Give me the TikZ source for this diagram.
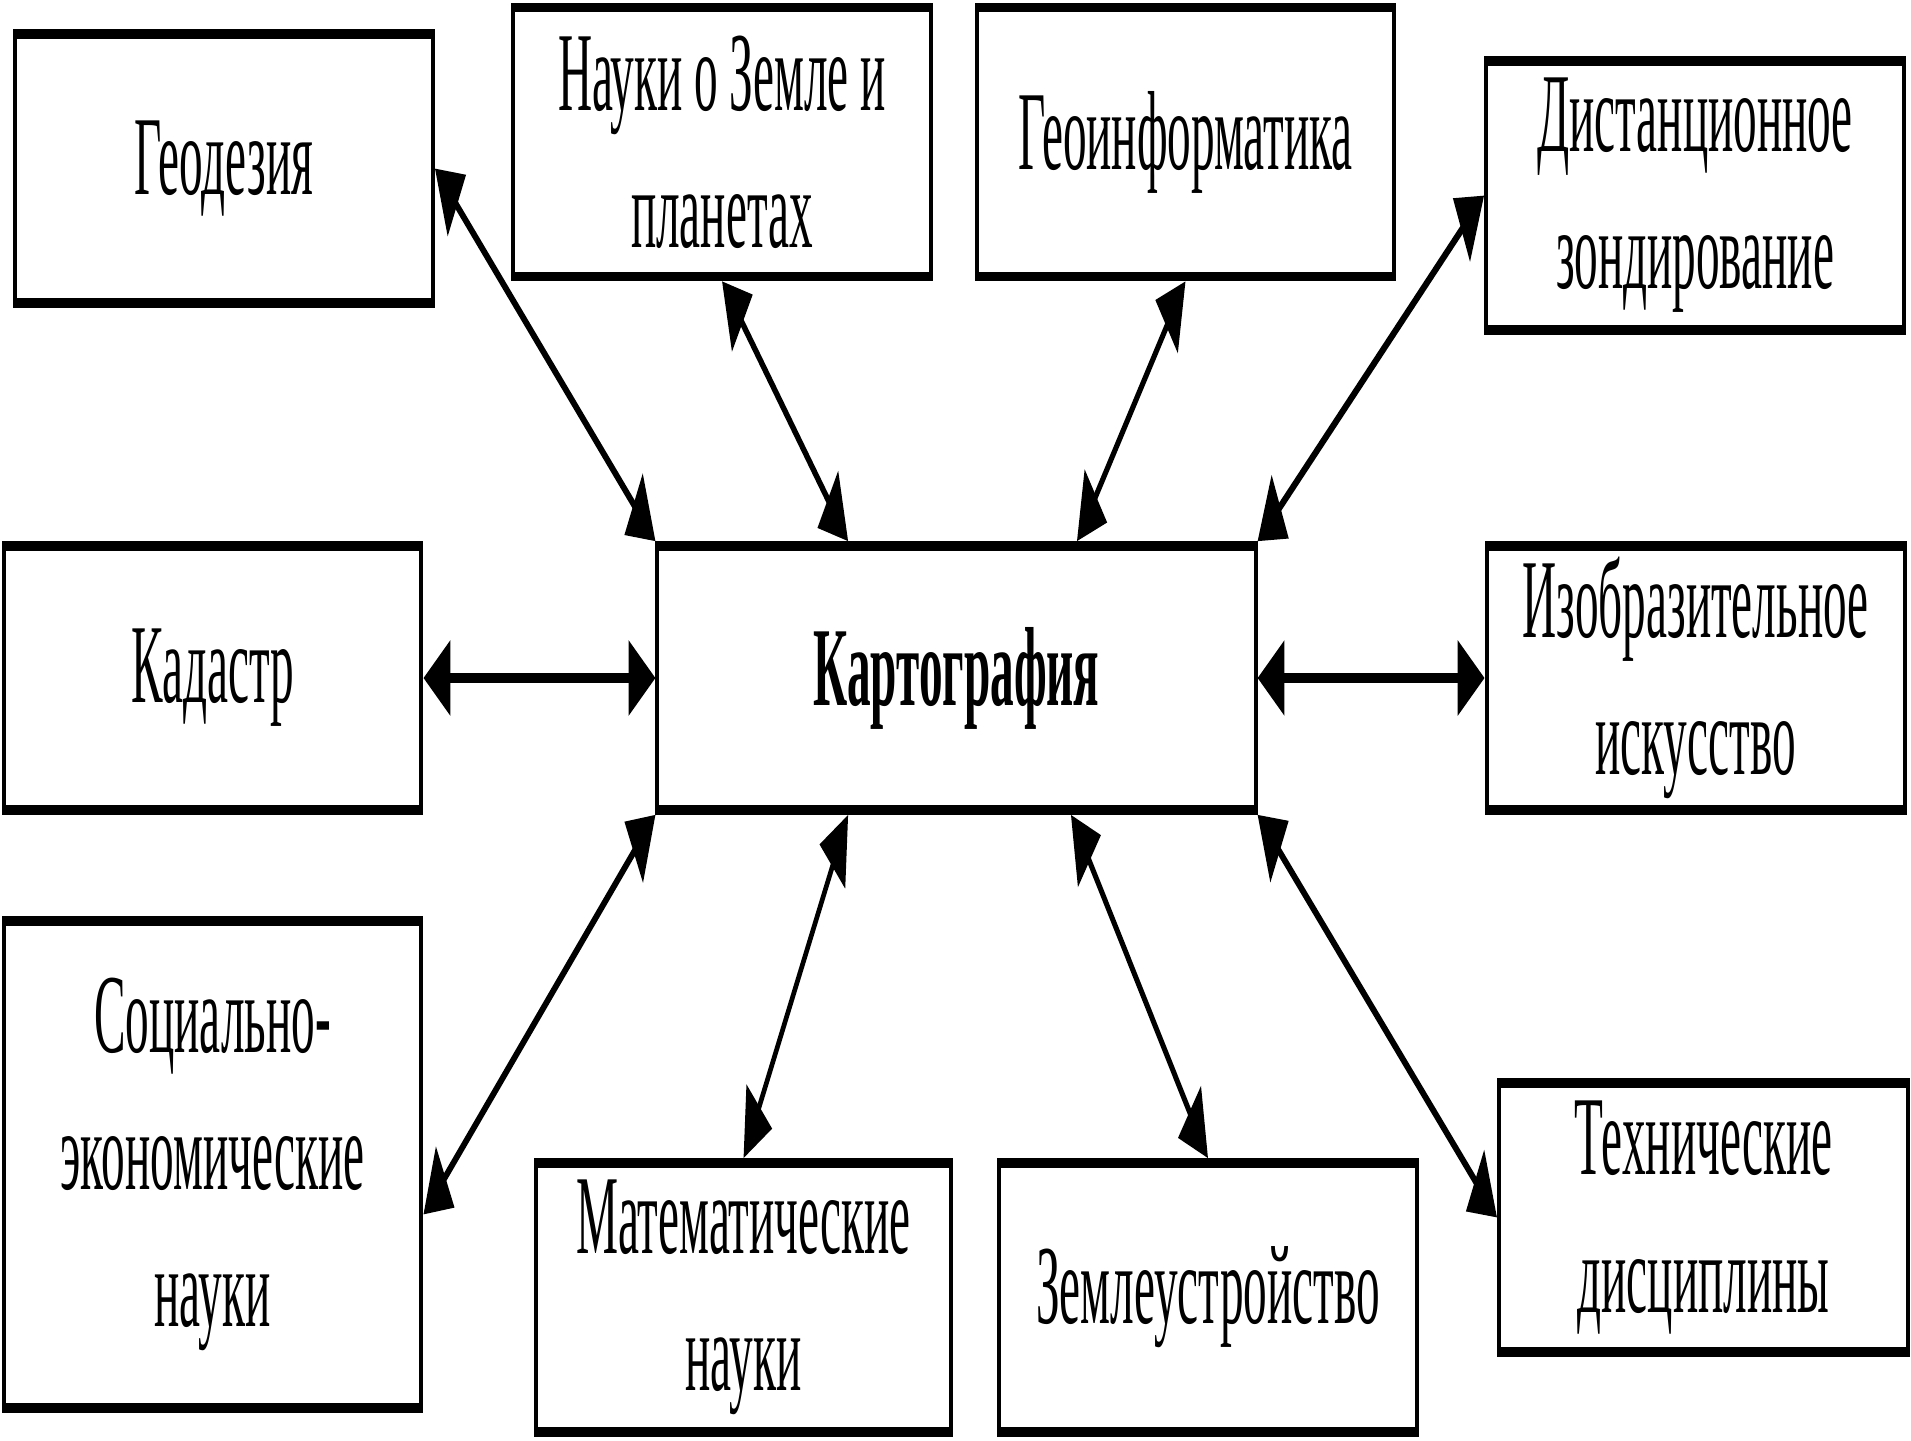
\documentclass[tikz,border=0pt]{standalone}
\usepackage{fontspec}
\setmainfont{Liberation Serif}
\usepackage{tikz}
\usetikzlibrary{arrows.meta,calc}
\pgfdeclarelayer{edgelayer}
\pgfdeclarelayer{nodelayer}
\pgfsetlayers{edgelayer,nodelayer,main}
\tikzstyle{squeeze}=[transform canvas={xscale=0.42}, x=2.381cm]
\tikzstyle{field}=[rectangle, draw=black, line width=2.7pt, minimum width=9.95cm, minimum height=2.69cm, inner sep=0pt, align=center, font=\fontsize{32}{39}\selectfont]
\tikzstyle{core}=[field, minimum width=14.24cm, minimum height=2.64cm, font=\fontsize{32}{39}\selectfont\bfseries]
\tikzstyle{link}=[>={Triangle[length=6.4mm, width=7.3mm]}, <->, draw=black, line width=2.7pt]

\begin{document}
\begin{tikzpicture}
    \useasboundingbox (0, 0) rectangle (19.11, -14.40);
    \begin{pgfonlayer}{nodelayer}
        \begin{scope}[style=squeeze]
            \node [style=core] (Kart) at (9.565, -6.78) {Картография};
            \node [style=field] (Geo) at (2.24, -1.685) {Геодезия};
            \node [style=field] (Nauki) at (7.22, -1.42) {Науки о Земле и\\планетах};
            \node [style=field] (Geoinf) at (11.855, -1.42) {Геоинформатика};
            \node [style=field] (Dist) at (16.95, -1.955) {Дистанционное\\зондирование};
            \node [style=field, minimum height=2.64cm] (Kadastr) at (2.125, -6.78) {Кадастр};
            \node [style=field, minimum height=2.64cm] (Izobr) at (16.955, -6.78) {Изобразительное\\искусство};
            \node [style=field, minimum height=4.87cm] (Social) at (2.125, -11.645) {Социально-\\экономические\\науки};
            \node [style=field, minimum width=9.88cm] (Matem) at (7.435, -12.975) {Математические\\науки};
            \node [style=field] (Zemle) at (12.08, -12.975) {Землеустройство};
            \node [style=field, minimum width=9.74cm] (Tekhn) at (17.035, -12.175) {Технические\\дисциплины};
        \end{scope}
    \end{pgfonlayer}
    \begin{pgfonlayer}{edgelayer}
        \begin{scope}[style=squeeze]
            \draw [style=link] (Geo.east) to (Kart.north west);
            \draw [style=link] (Nauki.south) to ($(Kart.north west)!0.32!(Kart.north east)$);
            \draw [style=link] (Geoinf.south) to ($(Kart.north west)!0.7!(Kart.north east)$);
            \draw [style=link] (Dist.west) to (Kart.north east);
            \draw [style=link] (Kadastr.east) to (Kart.west);
            \draw [style=link] (Kart.east) to (Izobr.west);
            \draw [style=link] (Kart.south west) to ([yshift=-0.5cm]Social.east);
            \draw [style=link] ($(Kart.south west)!0.32!(Kart.south east)$) to (Matem.north);
            \draw [style=link] ($(Kart.south west)!0.69!(Kart.south east)$) to (Zemle.north);
            \draw [style=link] (Kart.south east) to (Tekhn.west);
        \end{scope}
    \end{pgfonlayer}
\end{tikzpicture}
\end{document}
